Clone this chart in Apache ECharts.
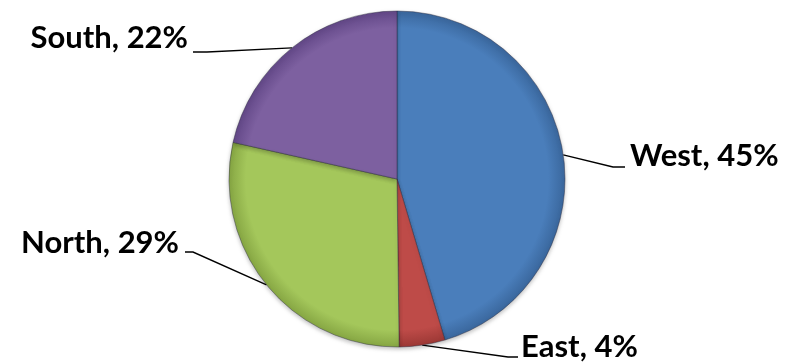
<!DOCTYPE html>
<html>
<head>
<meta charset="utf-8">
<script src="https://cdn.jsdelivr.net/npm/echarts@6/dist/echarts.min.js"></script>
<style>
  html, body { margin: 0; padding: 0; background: #fff; }
  #chart { width: 802px; height: 364px; }
</style>
</head>
<body>
<div id="chart"></div>
<script>
// regions, clockwise from 12 o'clock
const Regions = ['West', 'East', 'North', 'South'];
const Shares = [45.4, 4.4, 28.7, 21.5];
const Colors = ['#4a7ebb', '#be4b48', '#a4c75b', '#7d60a0'];
const Edges = ['#3a679d', '#9c3835', '#86a643', '#634888'];

// where each label sits (text anchor) and where its leader line bends
const LabelSpots = [
  { x: 630, y: 156, align: 'left', bend: [613, 167], end: [625, 167] },
  { x: 521, y: 347, align: 'left', bend: [508, 357], end: [518, 357] },
  { x: 179, y: 243, align: 'right', bend: [193, 252], end: [185, 252] },
  { x: 188, y: 38, align: 'right', bend: [207, 52], end: [193, 52] }
];

var chart = echarts.init(document.getElementById('chart'));

function sliceFill(i) {
  return new echarts.graphic.RadialGradient(397, 179, 168, [
    { offset: 0, color: Colors[i] },
    { offset: 0.9, color: Colors[i] },
    { offset: 1, color: Edges[i] }
  ], true);
}

chart.setOption({
  animation: false,
  series: [{
    type: 'pie',
    center: [397, 179],
    radius: 168,
    startAngle: 90,
    clockwise: true,
    percentPrecision: 0,
    data: Regions.map(function (name, i) {
      return {
        name: name,
        value: Shares[i],
        itemStyle: { color: sliceFill(i) }
      };
    }),
    itemStyle: {
      borderColor: 'rgba(40,40,60,0.55)',
      borderWidth: 0.8,
      shadowColor: 'rgba(0,0,0,0.25)',
      shadowBlur: 4,
      shadowOffsetY: 2
    },
    label: {
      show: true,
      position: 'outside',
      formatter: '{b}, {d}%',
      fontFamily: 'Lato',
      fontWeight: 'bold',
      fontSize: 31,
      color: '#000'
    },
    labelLine: {
      show: true,
      length: 20,
      length2: 10,
      lineStyle: { color: '#000', width: 1.4 }
    },
    labelLayout: function (params) {
      var s = LabelSpots[params.dataIndex];
      var start = params.labelLinePoints ? params.labelLinePoints[0] : s.bend;
      return {
        x: s.x,
        y: s.y,
        align: s.align,
        verticalAlign: 'middle',
        labelLinePoints: [start, s.bend, s.end]
      };
    }
  }]
});
</script>
</body>
</html>
